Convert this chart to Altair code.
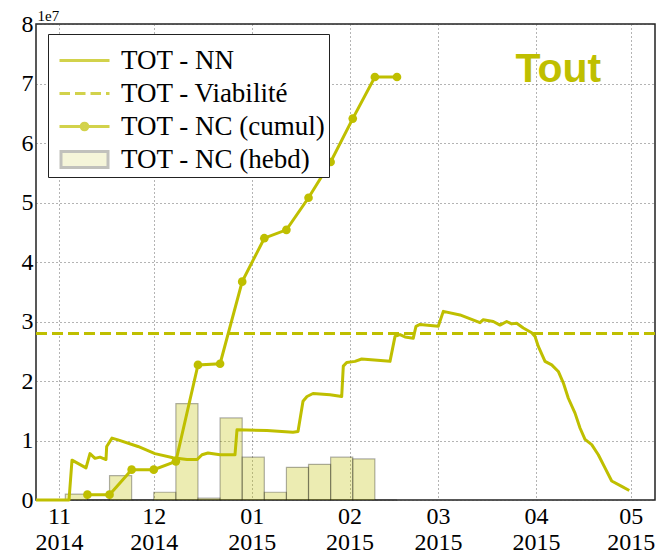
import altair as alt
import pandas as pd

# ---------------- data (values in units of 1e7) ----------------
BASE = "2014-11-01"          # day 0 of the day offsets below

# TOT - NN  (day offset from 2014-11-01, value)
nn_days = [-7.28, 3.17, 4.12, 8.55, 9.81, 11.40, 12.98, 14.88, 15.10, 16.78,
           18.68, 25.01, 30.39, 36.09, 40.52, 43.69, 45.27, 47.17, 50.97, 55.72,
           56.35, 65.85, 74.08, 75.67, 77.25, 78.52, 80.42, 85.80, 89.50, 90.01,
           91.08, 93.71, 95.83, 104.79, 106.38, 107.96, 109.54, 112.17, 113.02, 114.29,
           120.08, 121.67, 126.95, 133.29, 134.33, 137.50, 139.62, 141.74, 143.32, 144.91,
           147.00, 149.66, 150.70, 151.75, 153.87, 155.99, 158.08, 159.66, 161.25, 163.37,
           164.95, 166.53, 168.65, 170.74, 172.86, 174.98, 178.15, 180.55]
nn_vals = [0.00, 0.00, 0.67, 0.54, 0.78, 0.70, 0.72, 0.68, 0.90, 1.04,
           1.01, 0.90, 0.78, 0.71, 0.68, 0.68, 0.76, 0.79, 0.76, 0.76,
           1.18, 1.17, 1.14, 1.15, 1.66, 1.74, 1.79, 1.77, 1.74, 2.25,
           2.31, 2.33, 2.37, 2.33, 2.75, 2.78, 2.74, 2.72, 2.92, 2.95,
           2.92, 3.17, 3.11, 2.98, 3.03, 3.00, 2.94, 3.00, 2.96, 2.97,
           2.89, 2.81, 2.75, 2.58, 2.33, 2.27, 2.16, 1.97, 1.71, 1.46,
           1.21, 1.02, 0.93, 0.76, 0.54, 0.32, 0.23, 0.16]

# TOT - Viabilité
viab_val = 2.80

# TOT - NC (hebd): weekly bars, week start (day offset) and value
week_start_days = [2, 9, 16, 23, 30, 37, 44, 51, 58, 65, 72, 79, 86, 93, 100]
week_vals = [0.10, 0.00, 0.41, 0.00, 0.13, 1.62, 0.03, 1.38, 0.72, 0.13,
             0.55, 0.60, 0.72, 0.69, 0.00]

# TOT - NC (cumul): markers at week ends
cumul_days = [9, 16, 23, 30, 37, 44, 51, 58, 65, 72, 79, 86, 93, 100, 107]
cumul_vals = [0.09, 0.09, 0.51, 0.51, 0.65, 2.27, 2.29, 3.67, 4.40, 4.54,
              5.08, 5.68, 6.41, 7.11, 7.11]

month_ticks = ["2014-11-01", "2014-12-01", "2015-01-01", "2015-02-01",
               "2015-03-01", "2015-04-01", "2015-05-01"]
x_domain_days = [-7.28, 188.69]
y_ticks = [0, 1, 2, 3, 4, 5, 6, 7, 8]

series = ["TOT - NN", "TOT - Viabilité", "TOT - NC (cumul)", "TOT - NC (hebd)"]
title_text = "Tout"
title_day, title_val = 158.1, 7.03

# ---------------- helpers ----------------
Y = "#BFBF00"
SERIF = "Liberation Serif"
base_ts = pd.Timestamp(BASE, tz="UTC")


def ms(d):
    return int((base_ts + pd.Timedelta(days=d)).value // 10**6)


def ms_date(s):
    return int(pd.Timestamp(s, tz="UTC").value // 10**6)


nn_df = pd.DataFrame({"t": [ms(d) for d in nn_days], "v": nn_vals})
bar_df = pd.DataFrame({"t": [ms(d) for d in week_start_days],
                       "t2": [ms(d + 7) for d in week_start_days],
                       "v": week_vals})
cum_df = pd.DataFrame({"t": [ms(d) for d in cumul_days], "v": cumul_vals})
txt_df = pd.DataFrame({"t": [ms(title_day)], "v": [title_val], "label": [title_text]})
leg_df = pd.DataFrame({"serie": series})

x_scale = alt.Scale(type="utc", domain=[ms(x_domain_days[0]), ms(x_domain_days[1])], nice=False)
y_scale = alt.Scale(domain=[0, 8], nice=False)

x_axis = alt.Axis(values=[ms_date(s) for s in month_ticks],
                  labelExpr="[utcFormat(datum.value, '%m'), utcFormat(datum.value, '%Y')]",
                  title=None, labelPadding=4, labelLineHeight=26.5, labelBaseline="top",
                  labelFont=SERIF, labelFontSize=24, labelColor="black")
y_axis = alt.Axis(values=y_ticks, title="1e7", titleAngle=0, titleAlign="left",
                  titleBaseline="alphabetic", titleX=1, titleY=-4, titleFontSize=15,
                  titleFontWeight="normal", titleFont=SERIF, labelPadding=3,
                  labelFont=SERIF, labelFontSize=24, labelColor="black")

X = alt.X("t:T", scale=x_scale, axis=x_axis)
Yenc = alt.Y("v:Q", scale=y_scale, axis=y_axis)

bars = alt.Chart(bar_df).mark_rect(fill=Y, fillOpacity=0.3, stroke="black",
                                   strokeOpacity=0.3, strokeWidth=1.2).encode(
    x=X, x2="t2:T", y=Yenc, y2=alt.datum(0))

viab = alt.Chart(pd.DataFrame({"v": [viab_val]})).mark_rule(
    color=Y, strokeWidth=3, strokeDash=[11, 5]).encode(y=alt.Y("v:Q", scale=y_scale, axis=y_axis))

nn = alt.Chart(nn_df).mark_line(color=Y, strokeWidth=3, strokeJoin="round").encode(x=X, y=Yenc)

cum = alt.Chart(cum_df).mark_line(
    color=Y, strokeWidth=3,
    point=alt.OverlayMarkDef(filled=True, size=75, color=Y, opacity=1)).encode(x=X, y=Yenc)

txt = alt.Chart(txt_df).mark_text(font="Liberation Sans", fontWeight="bold", fontSize=41,
                                  color=Y, align="center", baseline="alphabetic").encode(
    x=X, y=Yenc, text="label:N")

# legend (custom symbols through the scales, no marks drawn); path unit = 10 px
p_line = "M-2.5,0H2.5"
p_dash = "M-2.5,0H-1.45M-0.95,0H0.1M0.6,0H1.65M2.15,0H2.5"
p_dot = "M-2.5,0H2.5M0.33,0A0.33,0.33,0,1,1,-0.33,0A0.33,0.33,0,1,1,0.33,0Z"
p_rect = "M-2.35,-0.8H2.35V0.8H-2.35Z"

leg = alt.Legend(title=" ", titleFontSize=1, titlePadding=9, orient="none",
                 legendX=12, legendY=10, padding=3,
                 strokeColor="#222222", fillColor="white", labelFont=SERIF,
                 labelFontSize=27, labelColor="black", symbolSize=400, rowPadding=5,
                 symbolOffset=20, labelOffset=23, cornerRadius=0, labelLimit=400)

legend_layer = alt.Chart(leg_df).mark_point(filled=True, size=400).encode(
    shape=alt.Shape("serie:N", scale=alt.Scale(domain=series, range=[p_line, p_dash, p_dot, p_rect]), legend=leg),
    fill=alt.Fill("serie:N", scale=alt.Scale(domain=series, range=["transparent", "transparent", Y, "#ECECB2"]), legend=leg),
    stroke=alt.Stroke("serie:N", scale=alt.Scale(domain=series, range=[Y, Y, Y, "#A8A8A0"]), legend=leg),
    strokeWidth=alt.StrokeWidth("serie:N", scale=alt.Scale(domain=series, range=[3, 3, 3, 1.2]), legend=leg),
).transform_filter("false")

chart = alt.layer(bars, viab, nn, cum, txt, legend_layer).properties(
    width=619, height=476,
    autosize=alt.AutoSizeParams(type="none"),
    padding={"left": 28, "top": 16, "right": 1, "bottom": 54},
).configure_view(stroke="#222222", strokeWidth=1.5).configure_axis(
    domain=False, ticks=False, grid=True, gridColor="#444444", gridOpacity=0.8,
    gridDash=[1, 3], gridWidth=1, labelFont=SERIF, labelFontSize=24, labelColor="black",
)

chart.save("out.html", embed_options={"renderer": "svg", "actions": False})
